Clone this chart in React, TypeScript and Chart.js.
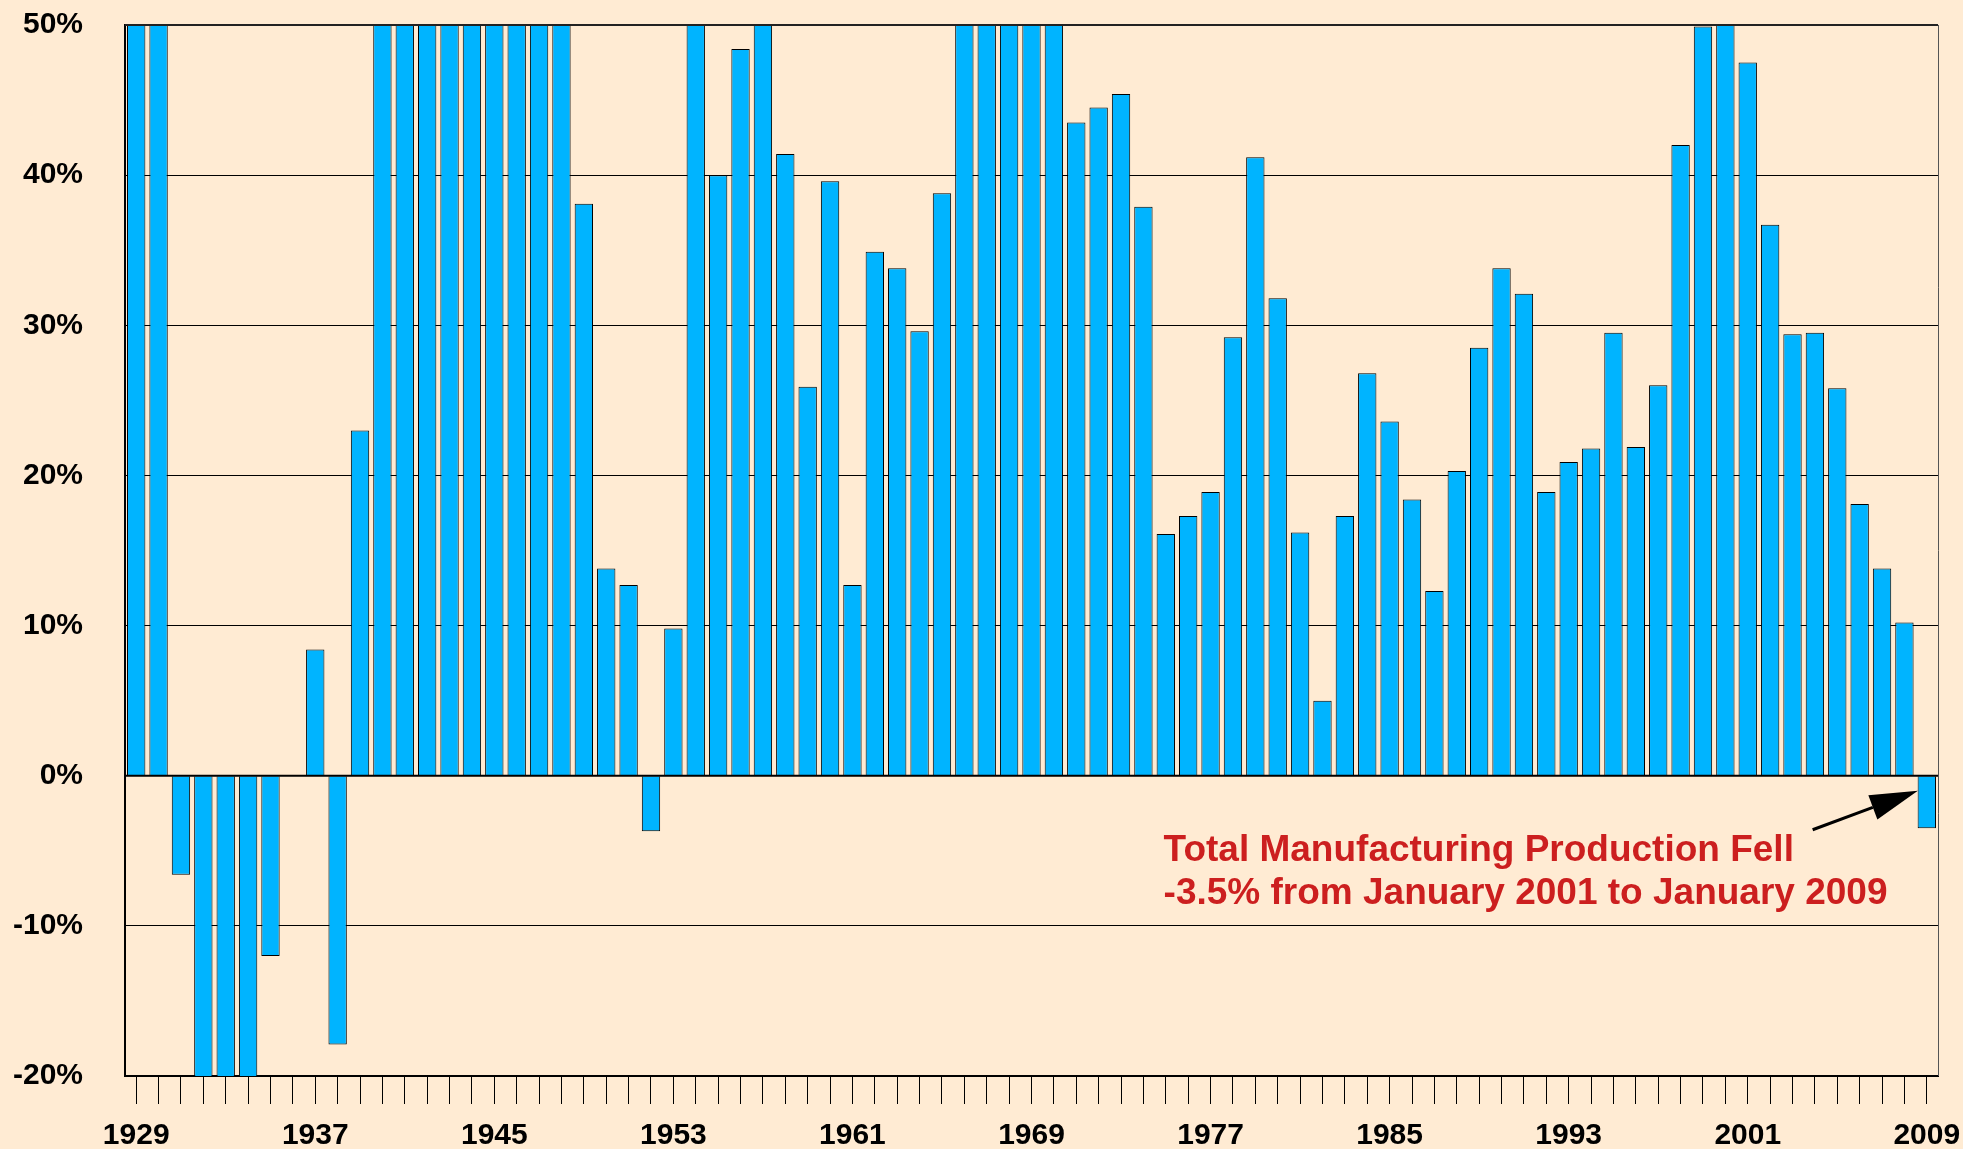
import React, { useEffect, useRef } from "react";
import { Chart, registerables } from "chart.js";

Chart.register(...registerables);

const years: string[] = [];
for (let y = 1929; y <= 2009; y++) years.push(String(y));

// Percent change over the prior 8 years (bars above 50% / below -20% run off the chart)
const changes: number[] = [
  55, 55, -6.6, -25, -25, -25, -12.0, 0, 8.4, -17.9, 23.0, // 1929-1939
  55, 55, 55, 55, 55, 55, 55, 55, 55, // 1940-1948
  38.1, 13.8, 12.7, -3.7, 9.8, // 1949-1953
  55, 40.0, 48.4, 55, 41.4, 25.9, 39.6, 12.7, 34.9, 33.8, 29.6, 38.8, // 1954-1965
  55, 55, 55, 55, 55, // 1966-1970
  43.5, 44.5, 45.4, 37.9, 16.1, 17.3, 18.9, 29.2, 41.2, 31.8, // 1971-1980
  16.2, 5.0, 17.3, 26.8, 23.6, 18.4, 12.3, 20.3, 28.5, 33.8, // 1981-1990
  32.1, 18.9, 20.9, 21.8, 29.5, 21.9, 26.0, 42.0, 49.9, 52, // 1991-2000
  47.5, 36.7, 29.4, 29.5, 25.8, 18.1, 13.8, 10.2, -3.5, // 2001-2009
];

const yTicks: number[] = [-20, -10, 0, 10, 20, 30, 40, 50];
const labelEvery = 8;

const noteLines: string[] = [
  "Total Manufacturing Production Fell",
  "-3.5% from January 2001 to January 2009",
];

const BG = "#FFEBD3";
const BAR = "#00B4FF";
const FONT = "'Liberation Sans', Arial, sans-serif";

export default function App() {
  const ref = useRef<HTMLCanvasElement | null>(null);

  useEffect(() => {
    document.body.style.margin = "0";
    document.body.style.background = BG;
    const canvas = ref.current;
    if (!canvas) return;

    const framePlugin = {
      id: "frame",
      afterDatasetsDraw(chart: any) {
        const { ctx, chartArea } = chart;
        ctx.save();
        ctx.strokeStyle = "#555";
        ctx.lineWidth = 1;
        ctx.beginPath();
        ctx.moveTo(chartArea.right + 0.5, chartArea.top);
        ctx.lineTo(chartArea.right + 0.5, chartArea.bottom);
        ctx.stroke();
        ctx.strokeStyle = "#222";
        ctx.lineWidth = 2;
        ctx.beginPath();
        ctx.moveTo(chartArea.left, chartArea.top);
        ctx.lineTo(chartArea.right, chartArea.top);
        ctx.stroke();
        const y0 = chart.scales.y.getPixelForValue(0);
        ctx.strokeStyle = "#000";
        ctx.lineWidth = 2;
        ctx.beginPath();
        ctx.moveTo(chartArea.left, y0);
        ctx.lineTo(chartArea.right, y0);
        ctx.stroke();
        ctx.restore();
      },
      afterDraw(chart: any) {
        const { ctx } = chart;
        const xs = chart.scales.x;
        const ys = chart.scales.y;
        ctx.save();
        ctx.fillStyle = "#CC1F1F";
        ctx.font = `bold 37px ${FONT}`;
        ctx.textAlign = "left";
        ctx.textBaseline = "alphabetic";
        const tx = xs.getPixelForValue(45.9);
        const ty = ys.getPixelForValue(-5.7);
        noteLines.forEach((l, i) => ctx.fillText(l, tx, ty + i * 43));
        const x1 = xs.getPixelForValue(74.9);
        const y1 = ys.getPixelForValue(-3.6);
        const x2 = xs.getPixelForValue(79.6);
        const y2 = ys.getPixelForValue(-1.0);
        const ang = Math.atan2(y2 - y1, x2 - x1);
        const hl = 48;
        const hw = 13;
        const bx = x2 - hl * Math.cos(ang);
        const by = y2 - hl * Math.sin(ang);
        ctx.strokeStyle = "#000";
        ctx.lineWidth = 3;
        ctx.beginPath();
        ctx.moveTo(x1, y1);
        ctx.lineTo(bx, by);
        ctx.stroke();
        ctx.fillStyle = "#000";
        ctx.beginPath();
        ctx.moveTo(x2, y2);
        ctx.lineTo(bx + hw * Math.sin(ang), by - hw * Math.cos(ang));
        ctx.lineTo(bx - hw * Math.sin(ang), by + hw * Math.cos(ang));
        ctx.closePath();
        ctx.fill();
        ctx.restore();
      },
    };

    const chart = new Chart(canvas, {
      type: "bar",
      data: {
        labels: years,
        datasets: [
          {
            data: changes,
            backgroundColor: BAR,
            borderColor: "#000",
            borderWidth: 1,
            barPercentage: 0.82,
            categoryPercentage: 1.0,
          },
        ],
      },
      options: {
        responsive: false,
        animation: false,
        devicePixelRatio: 1,
        layout: { padding: { top: 25, right: 25, left: 0, bottom: 0 } },
        plugins: { legend: { display: false }, tooltip: { enabled: false } },
        scales: {
          x: {
            type: "category",
            grid: {
              drawOnChartArea: false,
              drawTicks: true,
              tickLength: 28,
              offset: false,
              color: "#000",
              lineWidth: 1,
            },
            border: { display: true, color: "#000", width: 2 },
            ticks: {
              autoSkip: false,
              maxRotation: 0,
              minRotation: 0,
              padding: 14,
              color: "#000",
              font: { family: FONT, size: 30, weight: "bold" },
              callback: (_v: any, i: number) => (i % labelEvery === 0 ? years[i] : ""),
            },
            afterFit: (s: any) => {
              s.height = 73;
              s.paddingLeft = 0;
              s.paddingRight = 0;
            },
          },
          y: {
            min: -20,
            max: 50,
            afterBuildTicks: (s: any) => {
              s.ticks = yTicks.map((v) => ({ value: v }));
            },
            grid: {
              drawTicks: false,
              color: "#000",
              lineWidth: 1,
            },
            border: { display: true, color: "#000", width: 2 },
            ticks: {
              padding: 42,
              color: "#000",
              font: { family: FONT, size: 30, weight: "bold" },
              callback: (v: any) => `${v}%`,
            },
            afterFit: (s: any) => {
              s.width = 125;
              s.paddingTop = 0;
              s.paddingBottom = 0;
            },
          },
        },
      },
      plugins: [framePlugin],
    });

    return () => chart.destroy();
  }, []);

  return (
    <div style={{ position: "fixed", left: 0, top: 0, width: 1963, height: 1149, background: BG }}>
      <canvas ref={ref} width={1963} height={1149} style={{ display: "block" }} />
    </div>
  );
}
